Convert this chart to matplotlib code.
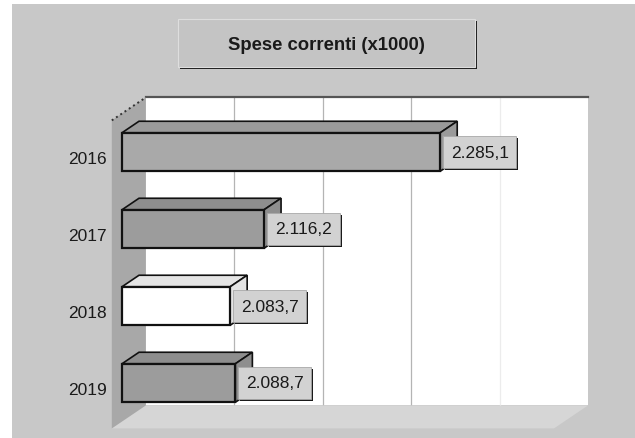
import matplotlib
matplotlib.use('Agg')
import matplotlib.pyplot as plt
from matplotlib.patches import Rectangle, Polygon

anni = ['2016', '2017', '2018', '2019']
spese = [2285.1, 2116.2, 2083.7, 2088.7]
etichette = ['2.285,1', '2.116,2', '2.083,7', '2.088,7']
colori = ['#a9a9a9', '#9c9c9c', '#ffffff', '#9c9c9c']
colori_top = ['#9a9a9a', '#8e8e8e', '#e4e4e4', '#8e8e8e']
titolo = 'Spese correnti (x1000)'

plt.rcParams['font.family'] = ['Liberation Sans', 'DejaVu Sans']

W, H = 635, 439
X0, X1 = 1980, 2404          # scala dei valori
PX = 1.043                   # pixel per unita'
PY = 77                      # pixel per categoria
DX = 34 / PX                 # profondita' 3D in unita' dati
DY = 23 / PY
BAR_D = 0.3                  # piano frontale delle barre


def P(v, c, d):
    # punto (valore, categoria) spostato in profondita' d (0 = davanti, 1 = fondo)
    return (v + (d - BAR_D) * DX, c - (d - BAR_D) * DY)


fig = plt.figure(figsize=(W / 100, H / 100), dpi=100, facecolor='white')
fig.patches.append(Rectangle((12 / W, 0), 1, 1 - 5 / H, transform=fig.transFigure,
                             fc='#c8c8c8', ec='none', zorder=-5))

ax = fig.add_axes([0, 0, 1, 1])
ax.set_facecolor('none')
ax.set_xlim(X0 - 122 / PX, X0 + (W - 122) / PX)
ax.set_ylim((H - 153) / PY, -153 / PY)
ax.axis('off')

# parete di fondo
ax.add_patch(Polygon([P(X0, -0.5, 1), P(X1, -0.5, 1), P(X1, 3.5, 1), P(X0, 3.5, 1)],
                     closed=True, fc='white', ec='none', zorder=1))
for k in range(1, 5):
    v = X0 + k * (X1 - X0) / 5
    (xa, ya), (xb, yb) = P(v, -0.5, 1), P(v, 3.5, 1)
    ax.plot([xa, xb], [ya, yb], color='#b4b4b4' if k < 4 else '#ececec', lw=0.9, zorder=1.5)
(xa, ya), (xb, yb) = P(X0, -0.5, 1), P(X1, -0.5, 1)
ax.plot([xa, xb], [ya, yb], color='#555555', lw=1.6, zorder=1.6)

# pavimento e parete laterale
ax.add_patch(Polygon([P(X0, 3.5, 0), P(X1, 3.5, 0), P(X1, 3.5, 1), P(X0, 3.5, 1)],
                     closed=True, fc='#d6d6d6', ec='none', zorder=2))
ax.add_patch(Polygon([P(X0, -0.5, 0), P(X0, -0.5, 1), P(X0, 3.5, 1), P(X0, 3.5, 0)],
                     closed=True, fc='#a8a8a8', ec='none', zorder=2))
(xa, ya), (xb, yb) = P(X0, -0.5, 0), P(X0, -0.5, 1)
ax.plot([xa, xb], [ya, yb], color='#333333', lw=1.4, ls=':', zorder=2.1)

# barre 3D
for i, v in enumerate(spese):
    ax.add_patch(Polygon([P(X0, i - 0.25, 0.3), P(v, i - 0.25, 0.3), P(v, i - 0.25, 0.8),
                          P(X0, i - 0.25, 0.8)], closed=True, fc=colori_top[i],
                         ec='#111111', lw=1.2, zorder=3))
    ax.add_patch(Polygon([P(v, i - 0.25, 0.3), P(v, i + 0.25, 0.3), P(v, i + 0.25, 0.8),
                          P(v, i - 0.25, 0.8)], closed=True, fc=colori_top[i],
                         ec='#111111', lw=1.2, zorder=3))
ax.barh(range(len(spese)), [v - X0 for v in spese], left=X0, height=0.5,
        color=colori, edgecolor='#111111', linewidth=1.6, zorder=4)

# etichette dei valori
bw, bh = 73 / PX, 0.42
for i, (v, lab) in enumerate(zip(spese, etichette)):
    x0 = v + 3 / PX
    ax.add_patch(Rectangle((x0 + 2 / PX, i - bh / 2 + 2 / PY), bw, bh,
                           fc='#1a1a1a', ec='none', zorder=5))
    ax.add_patch(Rectangle((x0, i - bh / 2), bw, bh, fc='#d2d2d2',
                           ec='#a8a8a8', lw=0.6, zorder=6))
    ax.text(x0 + bw / 2, i, lab, ha='center', va='center', fontsize=12.5,
            color='#1a1a1a', zorder=7)

# anni
for i, a in enumerate(anni):
    x, y = P(X0, i, 0)
    ax.text(x - 5 / PX, y, a, ha='right', va='center', fontsize=12.5, color='#1a1a1a')

# riquadro del titolo
fig.patches.append(Rectangle((180 / W, 1 - 70 / H), 297 / W, 48 / H, transform=fig.transFigure,
                             fc='#1a1a1a', ec='none', zorder=1))
fig.patches.append(Rectangle((178 / W, 1 - 68 / H), 297 / W, 48 / H, transform=fig.transFigure,
                             fc='#c4c4c4', ec='#dedede', lw=0.8, zorder=2))
fig.text(326 / W, 1 - 45 / H, titolo, ha='center', va='center', fontsize=13.3,
         fontweight='bold', color='#1a1a1a')

fig.savefig('out.png', dpi=100, facecolor=fig.get_facecolor())
